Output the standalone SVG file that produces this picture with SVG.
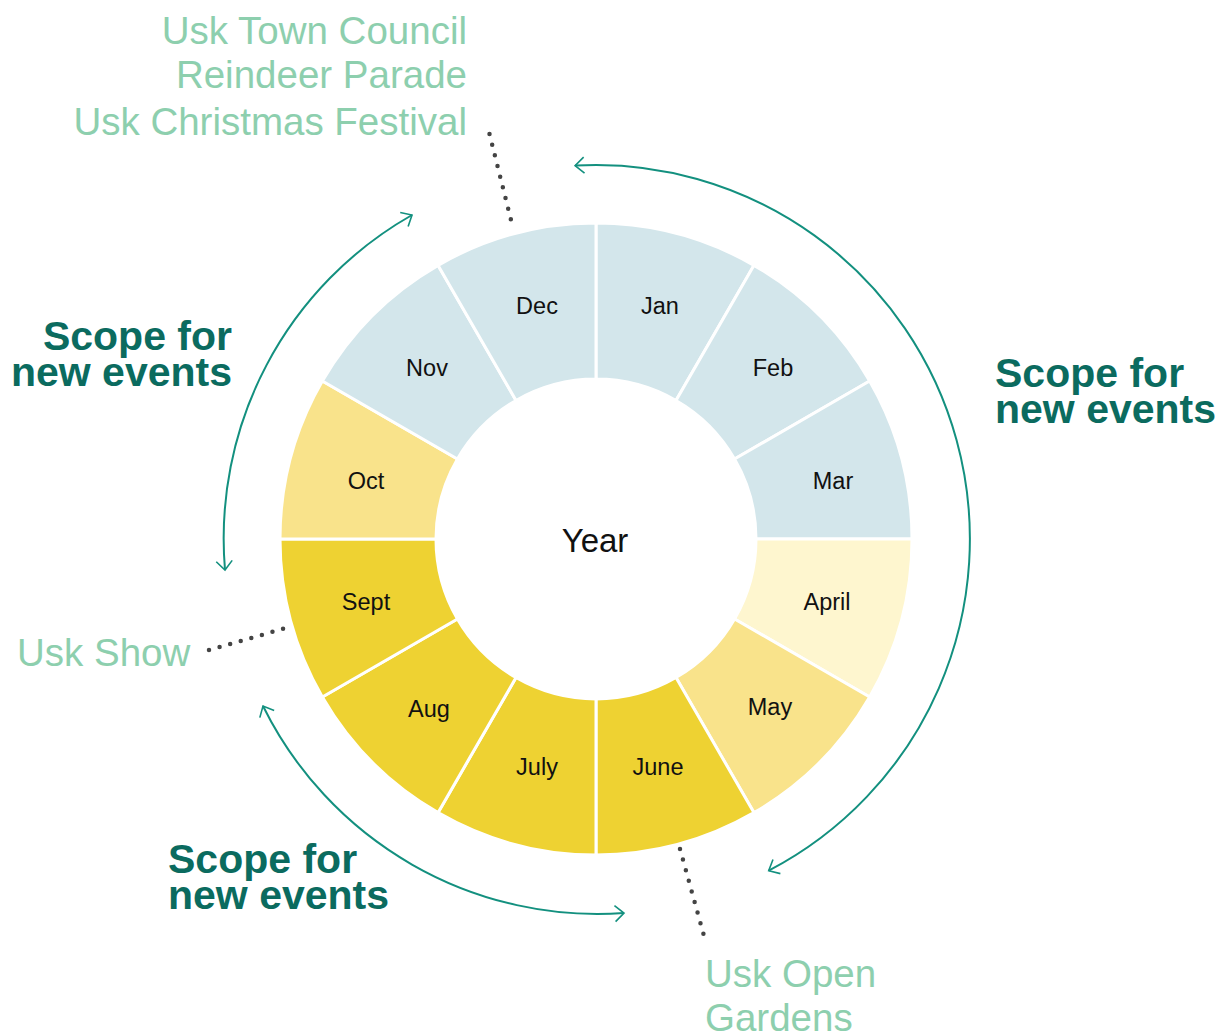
<svg xmlns="http://www.w3.org/2000/svg" width="1227" height="1032" viewBox="0 0 1227 1032">
<style>
.seg{stroke:#fff;stroke-width:3}
.w{fill:#d3e6eb}.ap{fill:#fef6cf}.my{fill:#f9e38b}.su{fill:#eed232}
.m{font-family:"Liberation Sans",Arial,sans-serif;font-size:23.5px;fill:#111;text-anchor:middle}
.yr{font-family:"Liberation Sans",Arial,sans-serif;font-size:33px;fill:#111;text-anchor:middle}
.ev{font-family:"Liberation Sans",Arial,sans-serif;font-size:38.5px;fill:#8dcfae}
.sc{font-family:"Liberation Sans",Arial,sans-serif;font-size:41px;font-weight:bold;fill:#0b6b5f}
.arc{fill:none;stroke:#13907f;stroke-width:2;marker-start:url(#ah);marker-end:url(#ah)}
.dot{fill:none;stroke:#444;stroke-width:4.5;stroke-linecap:round;stroke-dasharray:0 11}
</style>
<defs>
<marker id="ah" markerUnits="userSpaceOnUse" markerWidth="30" markerHeight="30" viewBox="-15 -15 30 30" refX="0" refY="0" orient="auto-start-reverse">
<path d="M-9,-8 L0,0 L-9,8" fill="none" stroke="#13907f" stroke-width="1.6"/>
</marker>
</defs>
<rect width="1227" height="1032" fill="#fff"/>
<g id="wheel">
<g id="jan"><path class="seg w" d="M596,223 A316,316 0 0 1 754,265.34 L676,400.44 A160,160 0 0 0 596,379 Z"/><text class="m" x="660" y="314">Jan</text></g>
<g id="feb"><path class="seg w" d="M754,265.34 A316,316 0 0 1 869.66,381 L734.56,459 A160,160 0 0 0 676,400.44 Z"/><text class="m" x="773" y="376">Feb</text></g>
<g id="mar"><path class="seg w" d="M869.66,381 A316,316 0 0 1 912,539 L756,539 A160,160 0 0 0 734.56,459 Z"/><text class="m" x="833" y="489">Mar</text></g>
<g id="apr"><path class="seg ap" d="M912,539 A316,316 0 0 1 869.66,697 L734.56,619 A160,160 0 0 0 756,539 Z"/><text class="m" x="827" y="610">April</text></g>
<g id="may"><path class="seg my" d="M869.66,697 A316,316 0 0 1 754,812.66 L676,677.56 A160,160 0 0 0 734.56,619 Z"/><text class="m" x="770" y="715">May</text></g>
<g id="jun"><path class="seg su" d="M754,812.66 A316,316 0 0 1 596,855 L596,699 A160,160 0 0 0 676,677.56 Z"/><text class="m" x="658" y="775">June</text></g>
<g id="jul"><path class="seg su" d="M596,855 A316,316 0 0 1 438,812.66 L516,677.56 A160,160 0 0 0 596,699 Z"/><text class="m" x="537" y="775">July</text></g>
<g id="aug"><path class="seg su" d="M438,812.66 A316,316 0 0 1 322.34,697 L457.44,619 A160,160 0 0 0 516,677.56 Z"/><text class="m" x="429" y="717">Aug</text></g>
<g id="sep"><path class="seg su" d="M322.34,697 A316,316 0 0 1 280,539 L436,539 A160,160 0 0 0 457.44,619 Z"/><text class="m" x="366" y="610">Sept</text></g>
<g id="oct"><path class="seg my" d="M280,539 A316,316 0 0 1 322.34,381 L457.44,459 A160,160 0 0 0 436,539 Z"/><text class="m" x="366" y="489">Oct</text></g>
<g id="nov"><path class="seg w" d="M322.34,381 A316,316 0 0 1 438,265.34 L516,400.44 A160,160 0 0 0 457.44,459 Z"/><text class="m" x="427" y="376">Nov</text></g>
<g id="dec"><path class="seg w" d="M438,265.34 A316,316 0 0 1 596,223 L596,379 A160,160 0 0 0 516,400.44 Z"/><text class="m" x="537" y="314">Dec</text></g>
<g id="year"><text class="yr" x="595" y="552">Year</text></g>
</g>
<g id="connectors">
<path class="arc" d="M575.1,165.6 A374,374 0 0 1 768.7,870.7"/>
<path class="arc" d="M225,570 A372,372 0 0 1 412,215"/>
<path class="arc" d="M263,706 A373,373 0 0 0 624,913"/>
<path class="dot" d="M489.5,134 L512.5,226"/>
<path class="dot" d="M209,650 L286,628"/>
<path class="dot" d="M680,849 L704,936"/>
</g>
<g id="events">
<text class="ev" x="467" y="44" text-anchor="end">Usk Town Council</text>
<text class="ev" x="467" y="88" text-anchor="end">Reindeer Parade</text>
<text class="ev" x="467" y="135" text-anchor="end">Usk Christmas Festival</text>
<text class="ev" x="17" y="666">Usk Show</text>
<text class="ev" x="705" y="987">Usk Open</text>
<text class="ev" x="705" y="1031">Gardens</text>
</g>
<g id="scope-left"><text class="sc" x="232" y="350" text-anchor="end">Scope for</text><text class="sc" x="232" y="386" text-anchor="end">new events</text></g>
<g id="scope-right"><text class="sc" x="995" y="387">Scope for</text><text class="sc" x="995" y="423">new events</text></g>
<g id="scope-bottom"><text class="sc" x="168" y="873">Scope for</text><text class="sc" x="168" y="909">new events</text></g>
</svg>
